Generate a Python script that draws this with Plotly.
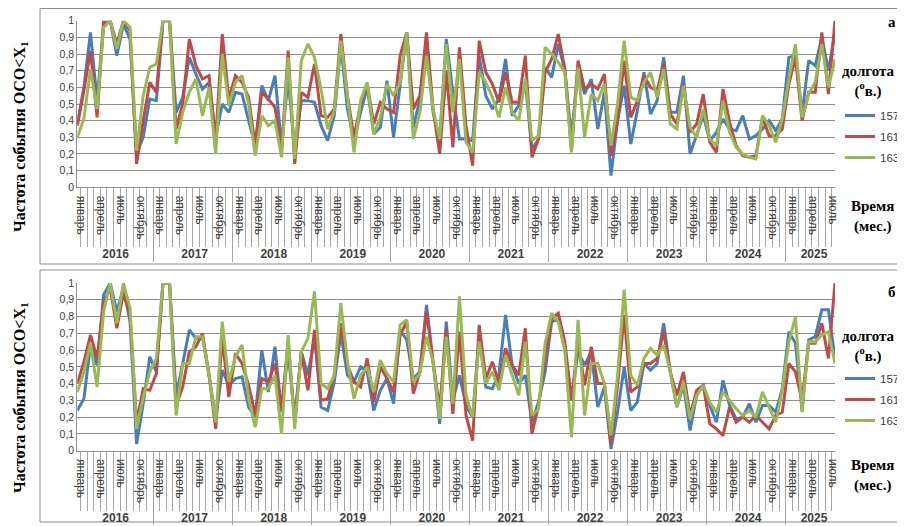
import plotly.graph_objects as go

years = [str(y) for y in range(2016, 2026)]
month_names = ["январь", "февраль", "март", "апрель", "май", "июнь",
               "июль", "август", "сентябрь", "октябрь", "ноябрь", "декабрь"]
shown_months = ["январь", "апрель", "июль", "октябрь"]
n_months = 116
series_names = ["157", "161", "163"]
y_ticks = [0, 0.1, 0.2, 0.3, 0.4, 0.5, 0.6, 0.7, 0.8, 0.9, 1]

# panel а
a_157 = [0.38,0.60,0.93,0.52,0.98,1.0,0.79,0.98,0.89,0.20,0.30,0.53,
         0.52,1.0,1.0,0.45,0.54,0.78,0.68,0.59,0.63,0.30,0.50,0.45,
         0.57,0.56,0.40,0.25,0.61,0.52,0.67,0.25,0.65,0.22,0.52,0.52,
         0.51,0.37,0.28,0.43,0.85,0.47,0.28,0.45,0.60,0.32,0.36,0.64,
         0.30,0.63,0.93,0.36,0.53,0.85,0.45,0.29,0.89,0.57,0.29,0.29,
         0.28,0.79,0.55,0.47,0.53,0.77,0.43,0.49,0.63,0.23,0.29,0.72,
         0.66,0.86,0.70,0.30,0.71,0.56,0.65,0.35,0.57,0.07,0.40,0.61,
         0.26,0.46,0.69,0.44,0.52,0.78,0.45,0.45,0.67,0.20,0.32,0.43,
         0.28,0.33,0.41,0.35,0.34,0.43,0.29,0.31,0.35,0.40,0.34,0.41,
         0.78,0.79,0.44,0.76,0.73,0.90,0.70,0.93]
a_161 = [0.37,0.58,0.82,0.42,1.0,1.0,0.86,1.0,0.94,0.14,0.40,0.63,
         0.57,1.0,1.0,0.35,0.50,0.89,0.73,0.65,0.67,0.28,0.92,0.53,
         0.67,0.63,0.54,0.25,0.57,0.53,0.48,0.22,0.82,0.14,0.57,0.54,
         0.74,0.43,0.42,0.47,0.92,0.55,0.30,0.50,0.62,0.38,0.51,0.47,
         0.45,0.79,0.93,0.47,0.55,0.93,0.47,0.20,0.70,0.24,0.84,0.37,
         0.13,0.88,0.69,0.62,0.51,0.69,0.51,0.51,0.79,0.18,0.29,0.69,
         0.77,0.92,0.71,0.22,0.76,0.59,0.62,0.59,0.68,0.19,0.40,0.76,
         0.42,0.52,0.67,0.60,0.58,0.74,0.44,0.38,0.62,0.33,0.38,0.56,
         0.27,0.21,0.59,0.39,0.25,0.19,0.18,0.19,0.42,0.31,0.31,0.35,
         0.62,0.78,0.40,0.57,0.57,0.93,0.56,1.0]
a_163 = [0.30,0.41,0.71,0.47,0.96,1.0,0.83,1.0,0.96,0.22,0.55,0.72,
         0.74,1.0,1.0,0.26,0.45,0.57,0.65,0.43,0.60,0.20,0.80,0.49,
         0.63,0.67,0.50,0.19,0.43,0.37,0.40,0.18,0.78,0.17,0.76,0.86,
         0.78,0.59,0.35,0.46,0.88,0.55,0.21,0.52,0.63,0.32,0.42,0.62,
         0.55,0.63,0.93,0.29,0.45,0.79,0.47,0.29,0.86,0.45,0.77,0.27,
         0.21,0.69,0.63,0.54,0.42,0.60,0.45,0.40,0.65,0.28,0.31,0.84,
         0.80,0.75,0.69,0.21,0.72,0.30,0.56,0.52,0.62,0.25,0.50,0.88,
         0.54,0.52,0.63,0.69,0.54,0.71,0.38,0.35,0.61,0.36,0.30,0.47,
         0.29,0.25,0.52,0.33,0.24,0.20,0.18,0.17,0.43,0.37,0.27,0.41,
         0.65,0.86,0.42,0.56,0.63,0.86,0.60,0.77]

# panel б
b_157 = [0.24,0.31,0.63,0.51,0.93,1.0,0.83,0.97,0.77,0.04,0.28,0.56,
         0.47,1.0,1.0,0.33,0.52,0.72,0.67,0.68,0.45,0.19,0.48,0.39,
         0.43,0.44,0.26,0.20,0.60,0.35,0.62,0.23,0.59,0.19,0.59,0.45,
         0.68,0.26,0.24,0.41,0.70,0.45,0.41,0.50,0.47,0.24,0.36,0.43,
         0.28,0.72,0.66,0.43,0.47,0.87,0.53,0.16,0.77,0.30,0.45,0.27,
         0.20,0.69,0.38,0.37,0.46,0.81,0.51,0.40,0.45,0.17,0.29,0.47,
         0.77,0.78,0.60,0.30,0.59,0.51,0.59,0.26,0.38,0.01,0.23,0.50,
         0.24,0.29,0.52,0.48,0.52,0.76,0.47,0.26,0.39,0.12,0.33,0.39,
         0.27,0.17,0.42,0.27,0.19,0.20,0.28,0.17,0.27,0.27,0.23,0.37,
         0.71,0.64,0.24,0.66,0.68,0.84,0.84,0.55]
b_161 = [0.40,0.53,0.69,0.55,0.88,0.97,0.73,0.94,0.81,0.17,0.37,0.36,
         0.46,1.0,1.0,0.27,0.38,0.59,0.62,0.70,0.45,0.13,0.67,0.32,
         0.58,0.52,0.39,0.22,0.43,0.41,0.52,0.25,0.65,0.17,0.59,0.36,
         0.72,0.30,0.31,0.45,0.76,0.51,0.41,0.38,0.55,0.29,0.50,0.43,
         0.35,0.69,0.77,0.34,0.47,0.83,0.53,0.25,0.73,0.22,0.71,0.21,
         0.06,0.75,0.43,0.53,0.40,0.61,0.51,0.45,0.73,0.10,0.27,0.55,
         0.79,0.82,0.65,0.30,0.65,0.39,0.62,0.40,0.40,0.04,0.39,0.81,
         0.35,0.38,0.52,0.52,0.55,0.71,0.47,0.33,0.47,0.21,0.36,0.39,
         0.16,0.13,0.09,0.26,0.17,0.20,0.17,0.21,0.17,0.13,0.21,0.23,
         0.52,0.47,0.30,0.64,0.64,0.76,0.55,1.0]
b_163 = [0.35,0.47,0.64,0.38,0.83,1.0,0.76,1.0,0.85,0.13,0.32,0.47,
         0.55,1.0,1.0,0.21,0.52,0.52,0.68,0.68,0.45,0.17,0.77,0.41,
         0.56,0.63,0.31,0.14,0.37,0.37,0.45,0.10,0.69,0.13,0.59,0.67,
         0.95,0.40,0.37,0.45,0.88,0.53,0.31,0.45,0.50,0.35,0.54,0.46,
         0.41,0.75,0.78,0.41,0.46,0.68,0.53,0.19,0.68,0.28,0.92,0.33,
         0.20,0.65,0.40,0.47,0.36,0.57,0.45,0.33,0.65,0.21,0.25,0.64,
         0.82,0.77,0.60,0.08,0.78,0.21,0.52,0.52,0.40,0.09,0.45,0.96,
         0.45,0.39,0.55,0.61,0.57,0.63,0.47,0.26,0.41,0.19,0.33,0.39,
         0.29,0.23,0.35,0.30,0.25,0.21,0.24,0.20,0.35,0.26,0.17,0.36,
         0.65,0.80,0.23,0.65,0.65,0.69,0.71,0.52]

colors = ["#4A7EBB", "#BE4B48", "#98B954"]
# the page body has an 8px margin, so the figure is drawn 8px smaller and
# layout positions are given in page pixels and shifted by that offset
OFF = 8
W, H = 905 - OFF, 526 - OFF

x_year, x_month = [], []
for k in range(n_months):
    m = month_names[k % 12]
    x_year.append("<b>" + years[k // 12] + "</b>")
    x_month.append(m if m in shown_months else "\u00a0" * (k % 12 + 1))

def px_x(p):
    return (p - OFF) / W

def px_y(p):
    return 1 - (p - OFF) / H

fig = go.Figure()
panels = [(a_157, a_161, a_163), (b_157, b_161, b_163)]
for pi, data in enumerate(panels):
    suffix = "" if pi == 0 else "2"
    for si, vals in enumerate(data):
        fig.add_trace(go.Scatter(
            x=[x_year, x_month], y=vals, mode="lines", name=series_names[si],
            line=dict(color=colors[si], width=3),
            xaxis="x" + suffix, yaxis="y" + suffix,
            legend="legend" + suffix, legendgroup=f"p{pi}s{si}",
        ))

grid = "#8E8E8E"
tickfont = dict(family="Liberation Sans, Arial, sans-serif", size=12, color="#404040")
xcommon = dict(type="multicategory", showgrid=False, showline=True, linecolor=grid,
               tickmode="linear", tick0=0, dtick=1,
               ticks="outside", tickson="boundaries", ticklen=59, tickcolor="#A6A6A6",
               tickangle=90, tickfont=tickfont, ticklabelstandoff=5, ticklabelshift=4,
               showdividers=True, dividercolor="#A6A6A6", dividerwidth=1,
               automargin=False, domain=[px_x(77.3), px_x(835)])
ycommon = dict(range=[0, 1], tickvals=y_ticks, showgrid=True, gridcolor=grid,
               gridwidth=1, showline=True, linecolor=grid, ticks="",
               tickfont=dict(tickfont, size=10.5), zeroline=False, automargin=False)

legfont = dict(family="Liberation Sans, Arial", size=11.5, color="#404040")
fig.update_layout(
    width=W, height=H, margin=dict(l=0, r=0, t=0, b=0, autoexpand=False),
    paper_bgcolor="white", plot_bgcolor="white", separators=", ",
    xaxis=dict(xcommon, anchor="y"),
    xaxis2=dict(xcommon, anchor="y2"),
    yaxis=dict(ycommon, anchor="x", domain=[px_y(187.3), px_y(20.7)]),
    yaxis2=dict(ycommon, anchor="x2", domain=[px_y(450.7), px_y(283)]),
    legend=dict(x=1.0, y=px_y(101), xanchor="right", yanchor="top",
                font=legfont, itemwidth=30, tracegroupgap=2, bgcolor="rgba(0,0,0,0)"),
    legend2=dict(x=1.0, y=px_y(364), xanchor="right", yanchor="top",
                 font=legfont, itemwidth=30, tracegroupgap=2, bgcolor="rgba(0,0,0,0)"),
    showlegend=True,
)

# panel frames
for (y0, y1) in [(8.5, 264), (270, 522)]:
    fig.add_shape(type="rect", xref="paper", yref="paper",
                  x0=px_x(40), x1=px_x(904), y0=px_y(y1), y1=px_y(y0),
                  line=dict(color="#8C8C8C", width=1), layer="below")

serif = "Liberation Serif, Times New Roman, serif"
ytitle = "Частота события ОСО&lt;X<sub>1</sub>"
annotations = []
for (cy, lab, y_lab, y_dolg, y_time) in [(137, "а", 22, 82, 216), (398, "б", 292, 346, 475)]:
    annotations.append(dict(text="<b>" + ytitle + "</b>", x=px_x(20), y=px_y(cy),
                            textangle=-90, font=dict(family=serif, size=16, color="black")))
    annotations.append(dict(text="<b>" + lab + "</b>", x=px_x(892), y=px_y(y_lab),
                            font=dict(family=serif, size=15, color="black")))
    annotations.append(dict(text="<b>долгота<br>(<sup>o</sup>в.)</b>", x=px_x(868), y=px_y(y_dolg),
                            font=dict(family=serif, size=15, color="black")))
    annotations.append(dict(text="<b>Время<br>(мес.)</b>", x=px_x(872), y=px_y(y_time),
                            font=dict(family=serif, size=15, color="black")))
for a in annotations:
    a.update(xref="paper", yref="paper", showarrow=False, xanchor="center", yanchor="middle")
fig.update_layout(annotations=annotations)

fig.write_html("out.html")
